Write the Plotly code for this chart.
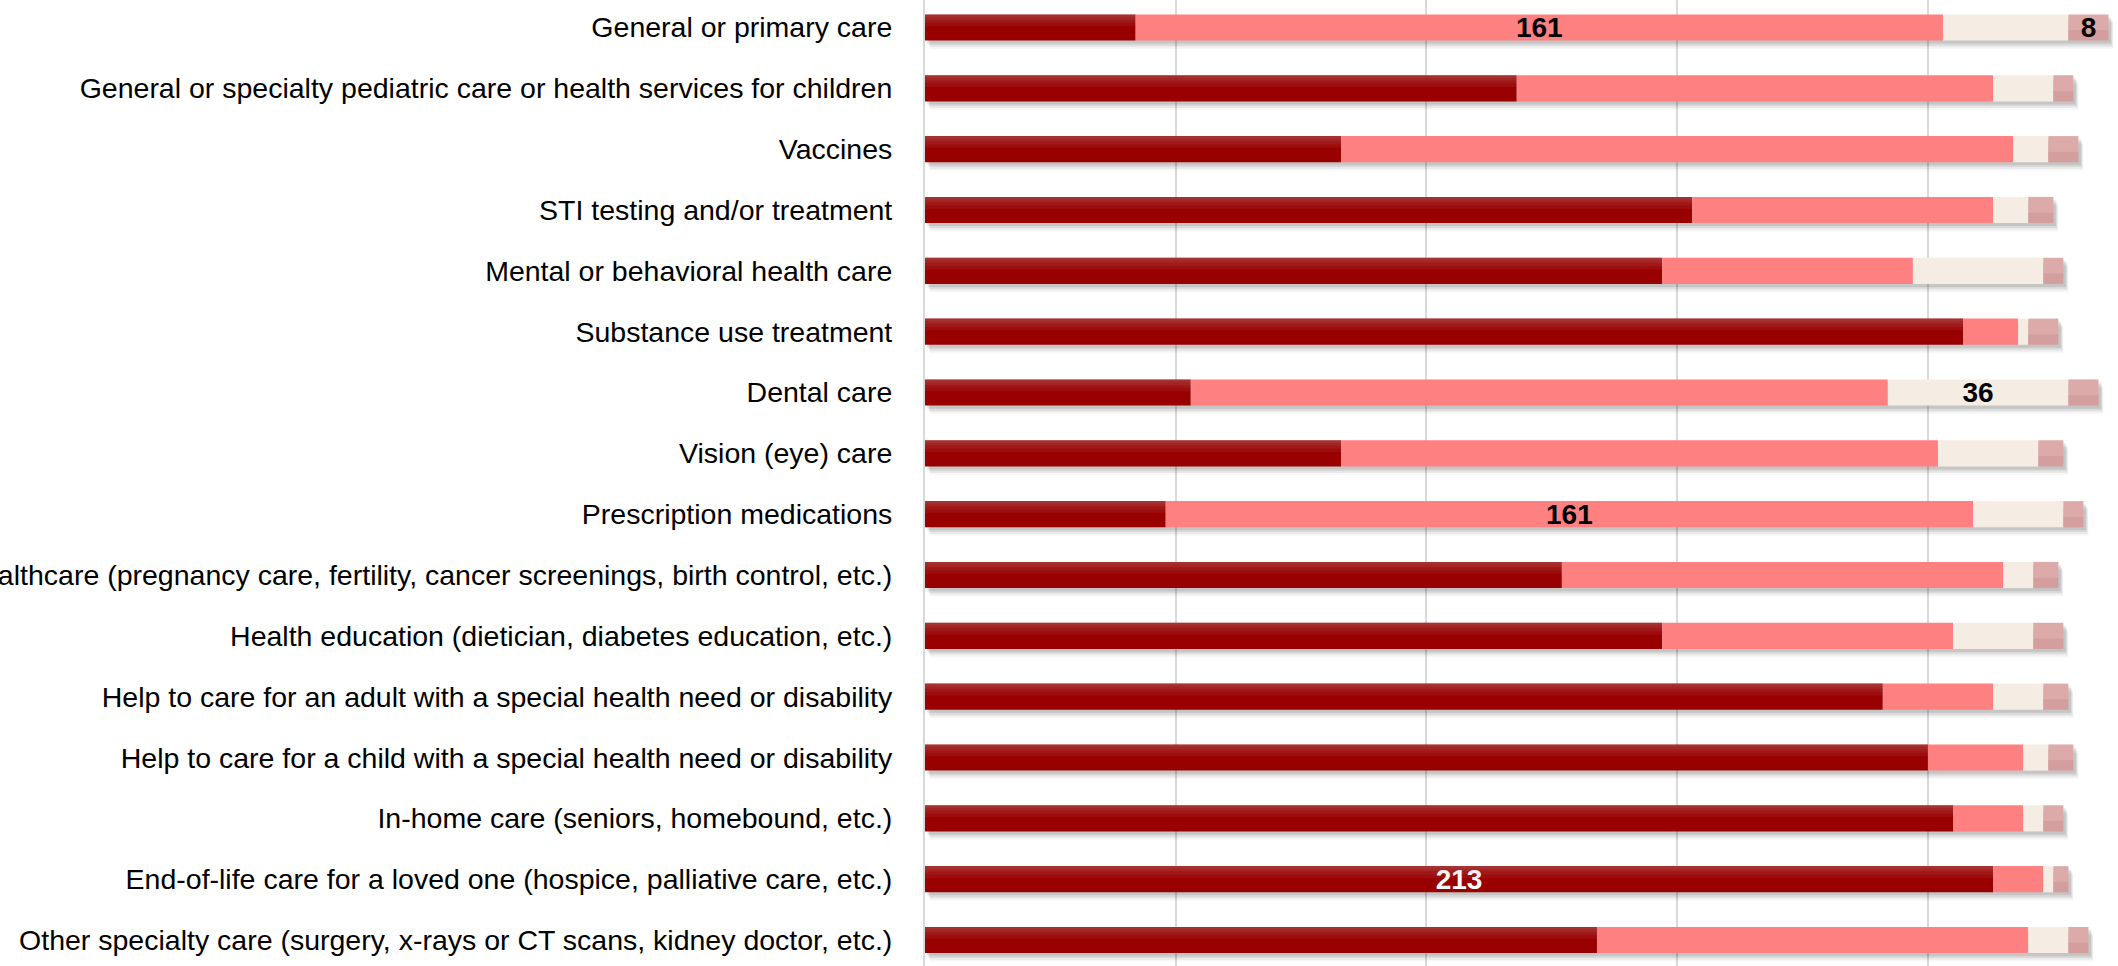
import plotly.graph_objects as go
import numpy as np

categories = [
    "General or primary care",
    "General or specialty pediatric care or health services for children",
    "Vaccines",
    "STI testing and/or treatment",
    "Mental or behavioral health care",
    "Substance use treatment",
    "Dental care",
    "Vision (eye) care",
    "Prescription medications",
    "Women's healthcare (pregnancy care, fertility, cancer screenings, birth control, etc.)",
    "Health education (dietician, diabetes education, etc.)",
    "Help to care for an adult with a special health need or disability",
    "Help to care for a child with a special health need or disability",
    "In-home care (seniors, homebound, etc.)",
    "End-of-life care for a loved one (hospice, palliative care, etc.)",
    "Other specialty care (surgery, x-rays or CT scans, kidney doctor, etc.)",
]

series1 = [42, 118, 83, 153, 147, 207, 53, 83, 48, 127, 147, 191, 200, 205, 213, 134]
series2 = [161, 95, 134, 60, 50, 11, 139, 119, 161, 88, 58, 22, 19, 14, 10, 86]
series3 = [25, 12, 7, 7, 26, 2, 36, 20, 18, 6, 16, 10, 5, 4, 2, 8]
series4 = [8, 4, 6, 5, 4, 6, 6, 5, 4, 5, 6, 5, 5, 4, 3, 4]

# which points carry a visible data label in the reference
label_rows1 = ["End-of-life care for a loved one (hospice, palliative care, etc.)"]
label_rows2 = ["General or primary care", "Prescription medications"]
label_rows3 = ["Dental care"]
label_rows4 = ["General or primary care"]

colors = ["#990000", "#FF8080", "#F5EDE3", "#DDAAAA"]
text_colors = ["white", "black", "black", "black"]

series = [series1, series2, series3, series4]
label_rows = [label_rows1, label_rows2, label_rows3, label_rows4]

arr = np.array(series, dtype=float)
bases = np.vstack([np.zeros(arr.shape[1]), np.cumsum(arr, axis=0)[:-1]])
totals = arr.sum(axis=0)

BW = 0.43
fig = go.Figure()

# soft drop shadow layers
for dx, dy, a in [(0.5, 0.05, 0.09), (0.7, 0.08, 0.07), (0.9, 0.11, 0.05), (1.0, 0.14, 0.03)]:
    fig.add_trace(go.Bar(
        y=categories, x=totals, base=[dx] * len(categories), orientation="h",
        width=BW, offset=-BW / 2 + dy,
        marker=dict(color=f"rgba(0,0,0,{a})", line=dict(width=0)),
        hoverinfo="skip", showlegend=False,
    ))

for i, (vals, col) in enumerate(zip(series, colors)):
    txt = [str(v) if c in label_rows[i] else "" for c, v in zip(categories, vals)]
    fig.add_trace(go.Bar(
        y=categories, x=vals, base=bases[i], orientation="h",
        width=BW, offset=-BW / 2,
        marker=dict(color=col, line=dict(width=0)),
        text=txt, textposition="inside", insidetextanchor="middle",
        constraintext="none", textangle=0,
        textfont=dict(family="Liberation Sans", size=28, color=text_colors[i], weight="bold"),
        hoverinfo="x+y", showlegend=False,
    ))

# gradient highlight on the dark segment
for w, a in [(0.45, 0.08), (0.32, 0.08), (0.20, 0.1), (0.10, 0.1)]:
    fig.add_trace(go.Bar(
        y=categories, x=series1, base=[0] * len(categories), orientation="h",
        width=BW * w, offset=-BW / 2,
        marker=dict(color=f"rgba(200,160,160,{a})", line=dict(width=0)),
        hoverinfo="skip", showlegend=False,
    ))
# subtle shading on the last segment
fig.add_trace(go.Bar(
    y=categories, x=series4, base=bases[3], orientation="h",
    width=BW * 0.4, offset=BW / 2 - BW * 0.4,
    marker=dict(color="rgba(150,60,60,0.10)", line=dict(width=0)),
    hoverinfo="skip", showlegend=False,
))

fig.update_layout(
    width=2118, height=966,
    margin=dict(l=925, r=0, t=0, b=0, pad=0),
    barmode="overlay",
    plot_bgcolor="white", paper_bgcolor="white",
    font=dict(family="Liberation Sans", size=28.5, color="black"),
    xaxis=dict(
        range=[0, 237.9], dtick=50, tick0=0,
        showgrid=True, gridcolor="#D9D9D9", gridwidth=1.5,
        zeroline=False, showticklabels=False, showline=False,
        fixedrange=True,
    ),
    yaxis=dict(
        categoryorder="array", categoryarray=categories,
        range=[15.427, -0.452],
        showline=True, linecolor="#D9D9D9", linewidth=2,
        showgrid=False, ticks="", ticklabelstandoff=25,
        automargin=False,
        tickfont=dict(family="Liberation Sans", size=28.5, color="black"),
    ),
)

fig.write_html(
    "out.html",
    config={"displayModeBar": False},
    post_script="document.body.style.margin='0';document.body.style.padding='0';",
)
